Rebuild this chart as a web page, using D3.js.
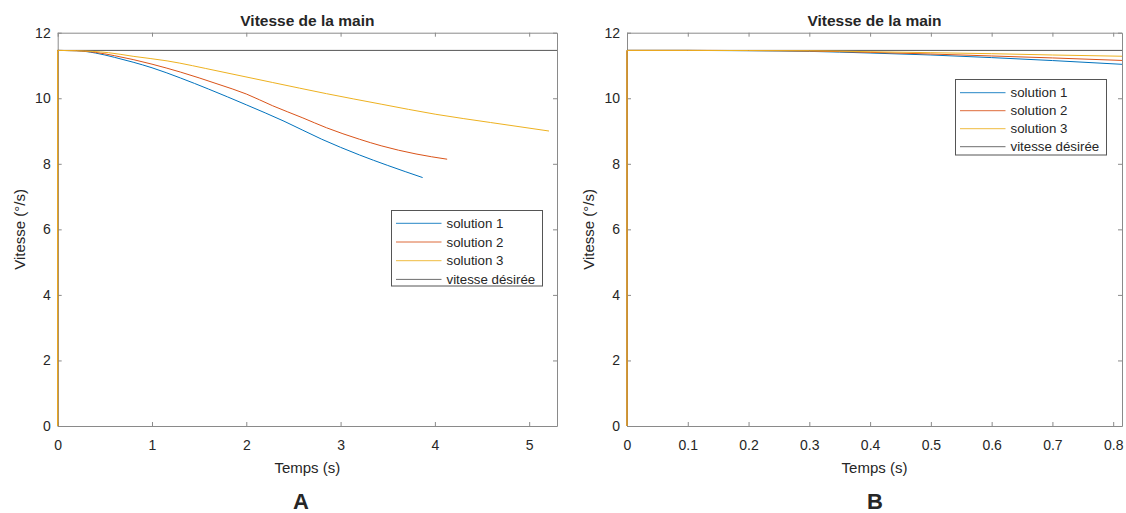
<!DOCTYPE html>
<html><head><meta charset="utf-8">
<script src="https://cdn.jsdelivr.net/npm/d3@7"></script>
<style>
body{margin:0;background:#fff}
text{font-family:"Liberation Sans",Arial,sans-serif;fill:#262626}
</style></head>
<body><svg id="c" width="1126" height="513"></svg>
<script>
// ---- data ----
const seriesNames = ["solution 1", "solution 2", "solution 3", "vitesse désirée"];
const seriesColors = ["#0072BD", "#D95319", "#EDB120", "#555555"];
const desiredSpeed = 11.46;
const startSpeed = 0;
const yTicks = [0, 2, 4, 6, 8, 10, 12];
const xTicksA = [0, 1, 2, 3, 4, 5];
const xTicksB = [0, 0.1, 0.2, 0.3, 0.4, 0.5, 0.6, 0.7, 0.8];
const panelTitle = "Vitesse de la main";
const xLabel = "Temps (s)";
const yLabel = "Vitesse (°/s)";
const panelLetters = ["A", "B"];

// Panel A: [time, speed]
const aSol1 = [[0,11.46],[0.2,11.45],[0.4,11.38],[0.6,11.25],[0.8,11.1],[1.0,10.93],[1.3,10.62],[1.6,10.28],[2.0,9.8],[2.4,9.3],[2.8,8.75],[3.2,8.27],[3.5,7.95],[3.87,7.58]];
const aSol2 = [[0,11.46],[0.2,11.45],[0.4,11.4],[0.6,11.3],[0.8,11.18],[1.0,11.04],[1.3,10.8],[1.7,10.43],[2.0,10.13],[2.28,9.77],[2.6,9.4],[2.85,9.1],[3.2,8.75],[3.43,8.55],[3.8,8.3],[4.13,8.14]];
const aSol3 = [[0,11.46],[0.2,11.45],[0.54,11.39],[0.8,11.28],[1.16,11.14],[1.7,10.83],[2.28,10.48],[2.85,10.14],[3.43,9.82],[4.01,9.51],[4.59,9.26],[5.21,9.0]];
// Panel B: [time, speed]
const bSol1 = [[0,11.46],[0.1,11.46],[0.2,11.45],[0.3,11.43],[0.4,11.38],[0.5,11.32],[0.6,11.24],[0.7,11.15],[0.82,11.03]];
const bSol2 = [[0,11.46],[0.1,11.46],[0.2,11.455],[0.3,11.44],[0.4,11.4],[0.5,11.35],[0.6,11.29],[0.7,11.23],[0.82,11.15]];
const bSol3 = [[0,11.46],[0.1,11.46],[0.2,11.455],[0.3,11.45],[0.4,11.42],[0.5,11.39],[0.6,11.36],[0.7,11.32],[0.82,11.28]];

// ---- drawing ----
const svg = d3.select("#c");
const axisColor = "#8a8a8a";

function drawPanel(cfg) {
  const x = d3.scaleLinear().domain([0, cfg.xMax]).range([cfg.left, cfg.right]);
  const y = d3.scaleLinear().domain([0, 12]).range([cfg.bottom, cfg.top]);
  const g = svg.append("g");
  const clipId = "clip" + cfg.id;
  svg.append("clipPath").attr("id", clipId).append("rect")
    .attr("x", cfg.left - 1).attr("y", cfg.top).attr("width", cfg.right - cfg.left + 1).attr("height", cfg.bottom - cfg.top + 1);

  const fmt = d => d3.format("")(+d.toFixed(1));
  const styleAxis = sel => {
    sel.select(".domain").attr("stroke", axisColor).attr("stroke-width", 1);
    sel.selectAll(".tick line").attr("stroke", axisColor);
    sel.selectAll(".tick text").attr("font-size", 14).attr("fill", "#333").style("font-family", '"Liberation Sans",Arial,sans-serif');
  };
  g.append("g").attr("transform", `translate(0,${cfg.bottom})`)
    .call(d3.axisBottom(x).tickValues(cfg.xTicks).tickFormat(fmt).tickSizeInner(-4).tickSizeOuter(0).tickPadding(14)).call(styleAxis);
  g.append("g").attr("transform", `translate(0,${cfg.top})`)
    .call(d3.axisTop(x).tickValues(cfg.xTicks).tickFormat("").tickSizeInner(-4).tickSizeOuter(0)).call(styleAxis);
  g.append("g").attr("transform", `translate(${cfg.left},0)`)
    .call(d3.axisLeft(y).tickValues(yTicks).tickSizeInner(-4).tickSizeOuter(0).tickPadding(7)).call(styleAxis);
  g.append("g").attr("transform", `translate(${cfg.right},0)`)
    .call(d3.axisRight(y).tickValues(yTicks).tickFormat("").tickSizeInner(-4).tickSizeOuter(0)).call(styleAxis);
  g.selectAll(".domain").attr("fill", "none");

  const line = d3.line().x(d => x(d[0])).y(d => y(d[1])).curve(d3.curveMonotoneX);
  const lines = g.append("g").attr("clip-path", `url(#${clipId})`);
  lines.append("line").attr("x1", x(0)).attr("x2", x(cfg.xMax)).attr("y1", y(desiredSpeed)).attr("y2", y(desiredSpeed))
    .attr("stroke", seriesColors[3]).attr("stroke-width", 1);
  cfg.series.forEach((s, i) => {
    // initial jump from rest to the first value at t = 0
    lines.append("line").attr("x1", x(s[0][0])).attr("x2", x(s[0][0]))
      .attr("y1", y(startSpeed)).attr("y2", y(s[0][1]))
      .attr("stroke", seriesColors[i]).attr("stroke-width", 1.2);
    lines.append("path").attr("d", line(s)).attr("fill", "none")
      .attr("stroke", seriesColors[i]).attr("stroke-width", 1);
  });

  // title & labels
  const cx = (cfg.left + cfg.right) / 2;
  g.append("text").attr("x", cx).attr("y", 26).attr("text-anchor", "middle")
    .attr("font-size", 15.5).attr("font-weight", "bold").attr("fill", "#111").text(panelTitle);
  g.append("text").attr("x", cx).attr("y", 473).attr("text-anchor", "middle")
    .attr("font-size", 15).attr("fill", "#333").text(xLabel);
  g.append("text").attr("transform", `translate(${cfg.yLabelX},${(cfg.top + cfg.bottom) / 2}) rotate(-90)`)
    .attr("text-anchor", "middle").attr("dy", "0.35em")
    .attr("font-size", 15).attr("fill", "#333").text(yLabel);
  g.append("text").attr("x", cfg.letterX).attr("y", 509).attr("text-anchor", "middle")
    .attr("font-size", 22).attr("font-weight", "bold").attr("fill", "#000").text(cfg.letter);

  // legend
  const L = cfg.legend;
  const lg = g.append("g");
  lg.append("rect").attr("x", L.x).attr("y", L.y).attr("width", L.w).attr("height", L.h)
    .attr("fill", "#fff").attr("stroke", "#555").attr("stroke-width", 1);
  seriesNames.forEach((name, i) => {
    const yy = L.y + L.firstRow + i * L.rowStep;
    lg.append("line").attr("x1", L.x + 4.5).attr("x2", L.x + 50).attr("y1", yy).attr("y2", yy)
      .attr("stroke", seriesColors[i]).attr("stroke-width", 1).attr("opacity", 0.85);
    lg.append("text").attr("x", L.x + 55).attr("y", yy).attr("dy", "0.35em")
      .attr("font-size", 13.3).attr("fill", "#222").text(name);
  });
}

drawPanel({
  id: "A", left: 57.7, right: 557, top: 32.7, bottom: 426, xMax: 5.295,
  xTicks: xTicksA, series: [aSol1, aSol2, aSol3], yLabelX: 20, letterX: 301, letter: panelLetters[0],
  legend: {x: 391.5, y: 210.5, w: 151, h: 75.5, firstRow: 12.8, rowStep: 18.7}
});
drawPanel({
  id: "B", left: 627, right: 1122, top: 32.7, bottom: 426, xMax: 0.8145,
  xTicks: xTicksB, series: [bSol1, bSol2, bSol3], yLabelX: 589, letterX: 875, letter: panelLetters[1],
  legend: {x: 955.5, y: 79.5, w: 151, h: 75.5, firstRow: 13.2, rowStep: 18}
});
</script>
</body></html>
